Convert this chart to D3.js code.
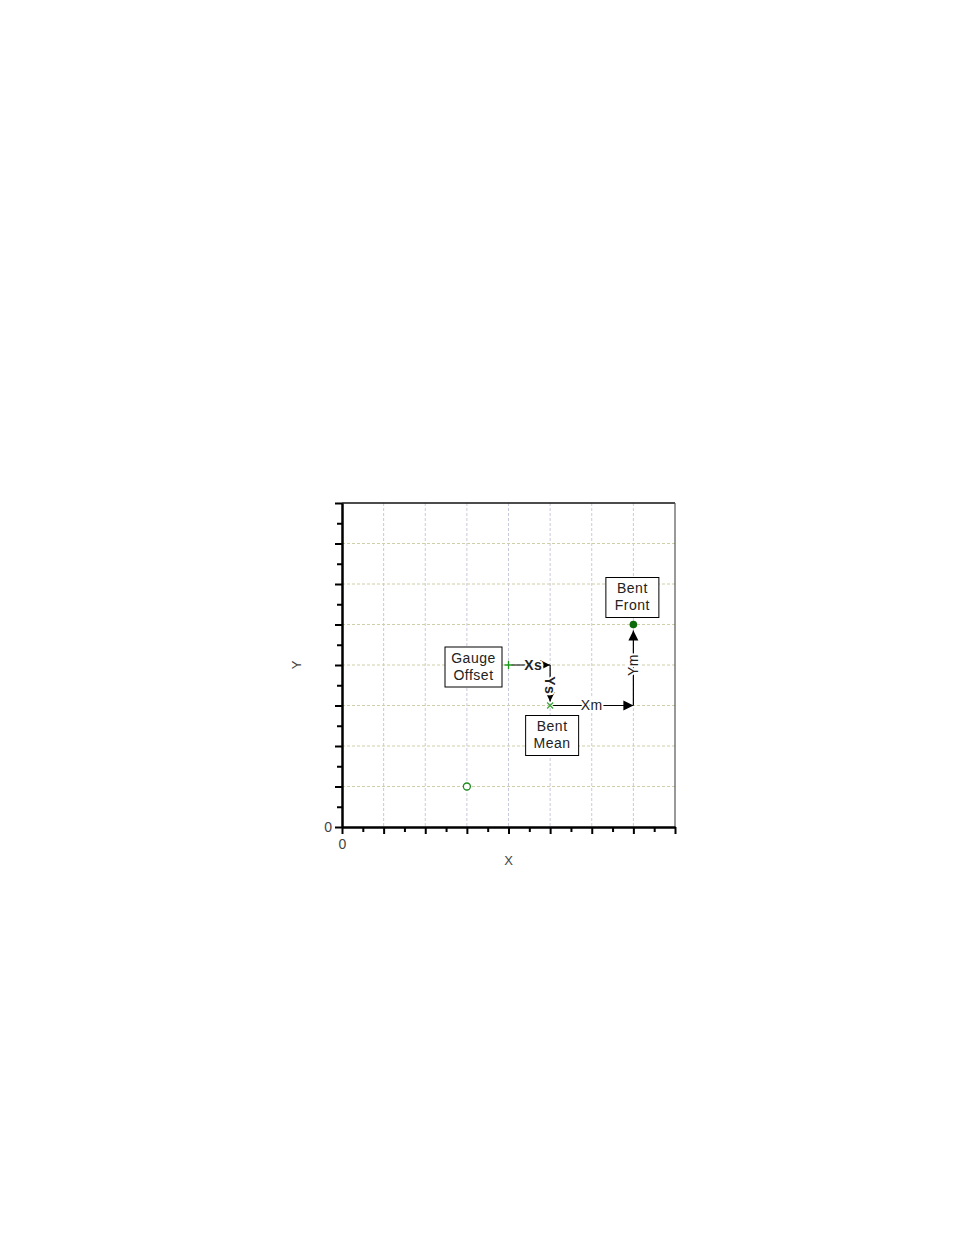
<!DOCTYPE html>
<html>
<head>
<meta charset="utf-8">
<script src="https://cdn.jsdelivr.net/npm/d3@7"></script>
<style>
  body { margin: 0; background: #fff; }
  text { font-family: "Liberation Sans", Arial, sans-serif; }
</style>
</head>
<body>
<svg width="954" height="1235"></svg>
<script>
// axis range and ticks
var xDomain = [0, 8],
    yDomain = [0, 8];
var majorTicks = [0, 1, 2, 3, 4, 5, 6, 7, 8];
var minorTicks = [0.5, 1.5, 2.5, 3.5, 4.5, 5.5, 6.5, 7.5];
var tickLabels = ["0"];

// markers
var markerX = [3, 4, 5, 7];
var markerY = [1, 4, 3, 5];
var markerShape = ["open", "plus", "cross", "filled"];
var markerLabel = [null, ["Gauge", "Offset"], ["Bent", "Mean"], ["Bent", "Front"]];

// arrow segments (data coords)
var arrowFromX = [4, 5, 5, 7];
var arrowFromY = [4, 4, 3, 3];
var arrowToX = [5, 5, 7, 7];
var arrowToY = [4, 3, 3, 5];
var arrowText = ["Xs", "Ys", "Xm", "Ym"];
var arrowBold = [true, true, false, false];

var margin = {top: 503, left: 342},
    width = 333,
    height = 324;

var svg = d3.select("svg");

var defs = svg.append("defs");
defs.append("marker")
    .attr("id", "head")
    .attr("viewBox", "0 0 10 10")
    .attr("refX", 10).attr("refY", 5)
    .attr("markerWidth", 10).attr("markerHeight", 11)
    .attr("markerUnits", "userSpaceOnUse")
    .attr("orient", "auto")
  .append("path")
    .attr("d", "M0,0L10,5L0,10Z")
    .attr("fill", "#000");

var g = svg.append("g")
    .attr("transform", "translate(" + margin.left + "," + margin.top + ")");

var x = d3.scaleLinear().domain(xDomain).range([0, width]);
var y = d3.scaleLinear().domain(yDomain).range([height, 0]);

// grid
g.append("g").selectAll("line")
    .data(majorTicks.slice(1, -1))
    .enter().append("line")
      .attr("x1", function(d) { return x(d); })
      .attr("x2", function(d) { return x(d); })
      .attr("y1", 0).attr("y2", height)
      .attr("stroke", "#c9c9dd")
      .attr("stroke-dasharray", "3,2");
g.append("g").selectAll("line")
    .data(majorTicks.slice(1, -1))
    .enter().append("line")
      .attr("y1", function(d) { return y(d); })
      .attr("y2", function(d) { return y(d); })
      .attr("x1", 0).attr("x2", width)
      .attr("stroke", "#cfcfa8")
      .attr("stroke-dasharray", "3,2");

// frame top/right
g.append("line").attr("x1", 0).attr("x2", width).attr("y1", 0).attr("y2", 0)
    .attr("stroke", "#111").attr("stroke-width", 1.5);
g.append("line").attr("x1", width).attr("x2", width).attr("y1", 0).attr("y2", height)
    .attr("stroke", "#555").attr("stroke-width", 1.2);

// axes
function styleAxis(sel) {
  sel.select(".domain").attr("stroke", "#000").attr("stroke-width", 2);
  sel.selectAll(".tick line").attr("stroke", "#000").attr("stroke-width", 2);
  sel.selectAll(".tick text").attr("fill", "#444").style("font-size", "14px")
      .style("font-family", "'Liberation Sans', Arial, sans-serif");
}

g.append("g")
    .attr("transform", "translate(0," + height + ")")
    .call(d3.axisBottom(x).tickValues(minorTicks).tickSize(5).tickFormat("").tickSizeOuter(0))
    .call(styleAxis);
g.append("g")
    .attr("transform", "translate(0," + height + ")")
    .call(d3.axisBottom(x).tickValues(majorTicks).tickSize(7).tickPadding(5)
      .tickFormat(function(d, i) { return tickLabels[i] || ""; }).tickSizeOuter(0))
    .call(styleAxis);

g.append("g")
    .call(d3.axisLeft(y).tickValues(minorTicks).tickSize(5).tickFormat("").tickSizeOuter(0))
    .call(styleAxis);
g.append("g")
    .call(d3.axisLeft(y).tickValues(majorTicks).tickSize(7).tickPadding(3)
      .tickFormat(function(d, i) { return tickLabels[i] || ""; }).tickSizeOuter(0))
    .call(styleAxis);

// axis titles
svg.append("text")
    .attr("x", margin.left + x(4)).attr("y", 865)
    .attr("text-anchor", "middle")
    .attr("fill", "#444").style("font-size", "13px")
    .text("X");
svg.append("text")
    .attr("transform", "translate(301," + (margin.top + y(4)) + ")rotate(-90)")
    .attr("text-anchor", "middle")
    .attr("fill", "#444").style("font-size", "13px")
    .text("Y");

// arrows
arrowText.forEach(function(t, i) {
  var x1 = x(arrowFromX[i]), y1 = y(arrowFromY[i]),
      x2 = x(arrowToX[i]), y2 = y(arrowToY[i]);
  var dx = Math.sign(x2 - x1), dy = Math.sign(y2 - y1);
  // leave small gap at target for the marker
  var gap = (i === 3) ? 6 : (i === 1 ? 4 : 0);
  g.append("line")
      .attr("x1", x1 + dx * 3).attr("y1", y1)
      .attr("x2", x2 - dx * gap).attr("y2", y2 - dy * gap)
      .attr("stroke", "#000").attr("stroke-width", 1.2)
      .attr("marker-end", "url(#head)");
  var mx = (x1 + x2) / 2 + (i === 0 ? 4 : 0), my = (y1 + y2) / 2;
  var rot = dy > 0 ? 90 : (dy < 0 ? -90 : 0);
  g.append("text")
      .attr("transform", "translate(" + mx + "," + my + ")rotate(" + rot + ")")
      .attr("text-anchor", "middle")
      .attr("dy", "0.35em")
      .attr("fill", "#222")
      .style("font-size", "14px")
      .style("font-weight", arrowBold[i] ? "bold" : "normal")
      .style("letter-spacing", "0.5px")
      .attr("stroke", "#fff").attr("stroke-width", 4)
      .style("paint-order", "stroke")
      .text(t);
});

// markers
markerShape.forEach(function(s, i) {
  var cx = x(markerX[i]), cy = y(markerY[i]);
  if (s === "open") {
    g.append("circle").attr("cx", cx).attr("cy", cy).attr("r", 3.5)
        .attr("fill", "#fff").attr("stroke", "#1c8a1c").attr("stroke-width", 1.3);
  } else if (s === "filled") {
    g.append("circle").attr("cx", cx).attr("cy", cy).attr("r", 3.8)
        .attr("fill", "#0b6b0b");
  } else if (s === "plus") {
    g.append("path").attr("d", "M" + (cx - 4) + "," + cy + "H" + (cx + 4) + "M" + cx + "," + (cy - 4) + "V" + (cy + 4))
        .attr("stroke", "#1c9a1c").attr("stroke-width", 1.3);
  } else {
    g.append("path").attr("d", "M" + (cx - 3) + "," + (cy - 3) + "L" + (cx + 3) + "," + (cy + 3) + "M" + (cx - 3) + "," + (cy + 3) + "L" + (cx + 3) + "," + (cy - 3))
        .attr("stroke", "#3aa53a").attr("stroke-width", 1.2);
  }
});

// label boxes, placed next to their marker
var boxOffset = [null, [-35, 2], [2, 30], [-1, -27]];
markerLabel.forEach(function(lbl, i) {
  if (!lbl) return;
  var cx = x(markerX[i]) + boxOffset[i][0], cy = y(markerY[i]) + boxOffset[i][1];
  var bw = (i === 1) ? 57 : 53, bh = 40;
  g.append("rect")
      .attr("x", cx - bw / 2).attr("y", cy - bh / 2)
      .attr("width", bw).attr("height", bh)
      .attr("fill", "#fff").attr("stroke", "#000").attr("stroke-width", 1);
  lbl.forEach(function(line, k) {
    g.append("text")
        .attr("x", cx).attr("y", cy - 9 + k * 17)
        .attr("dy", "0.35em")
        .attr("text-anchor", "middle")
        .attr("fill", "#222")
        .style("font-size", "14px")
        .style("letter-spacing", "0.5px")
        .text(line);
  });
});
</script>
</body>
</html>
